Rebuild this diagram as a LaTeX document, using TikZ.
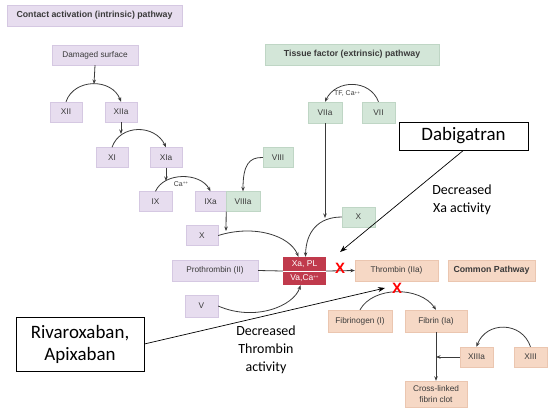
\documentclass[tikz,border=0pt]{standalone}
\usepackage{fontspec}
\setmainfont{Liberation Sans}
\newfontfamily\calibri{Carlito}
\usetikzlibrary{arrows.meta}
\definecolor{lilac}{HTML}{E7DDEF}
\definecolor{lilacline}{HTML}{D5C8E2}
\definecolor{sage}{HTML}{D3E6D8}
\definecolor{sageline}{HTML}{BFD6C5}
\definecolor{peach}{HTML}{F6D8C5}
\definecolor{peachline}{HTML}{EBC6B0}
\definecolor{brick}{HTML}{C03A4C}
\definecolor{inkgray}{HTML}{3A3A3A}
\newcommand{\plusplus}{\raisebox{0.45ex}{\fontsize{4.5}{5}\selectfont ++}}

\tikzset{
  fbox/.style={minimum width=32bp, minimum height=20bp, inner sep=1bp,
    align=center, text=inkgray, font=\fontsize{8.3}{10.5}\selectfont},
  pbox/.style={fbox, fill=lilac, draw=lilacline},
  gbox/.style={fbox, fill=sage, draw=sageline},
  obox/.style={fbox, fill=peach, draw=peachline},
  head/.style={font=\bfseries\fontsize{8.8}{10}\selectfont},
  arr/.style={-{Stealth[length=4.5bp,width=3.5bp]}, draw=inkgray, line width=0.8bp},
  link/.style={draw=inkgray, line width=0.8bp},
  callout/.style={draw=black, line width=0.6bp, fill=white, align=center,
    inner sep=0pt, font=\calibri\fontsize{19}{22}\selectfont},
  note/.style={align=center, font=\calibri\fontsize{14}{18}\selectfont},
  block/.style={text=red, font=\bfseries\fontsize{15}{15}\selectfont, inner sep=0pt},
  pointer/.style={-{Stealth[length=7bp,width=5bp]}, line width=0.7bp},
}

\begin{document}
\begin{tikzpicture}[x=1bp, y=-1bp]
  \useasboundingbox (0,0) rectangle (554,417);
  % Intrinsic pathway
  \node[pbox, head, minimum width=175bp, minimum height=21bp] (intr) at (94.5,15.5) {Contact activation (intrinsic) pathway};
  \node[pbox, minimum width=86bp] (dmg) at (95,55) {Damaged surface};
  \node[pbox] (xii) at (66,112) {XII};
  \node[pbox] (xiia) at (121,112) {XIIa};
  \node[pbox] (xi) at (112,157.5) {XI};
  \node[pbox] (xia) at (166,157.5) {XIa};
  \node[pbox, minimum width=33bp] (ix) at (155.5,201.5) {IX};
  \node[pbox, minimum width=31bp] (ixa) at (210.5,201.5) {IXa};
  \node[gbox, minimum width=34bp] (viiia) at (243,201.5) {VIIIa};
  \node[gbox, minimum width=30bp] (viii) at (278,157.5) {VIII};
  \node[pbox] (xp) at (202,235.5) {X};
  % Extrinsic pathway
  \node[gbox, head, minimum width=174bp, minimum height=21bp] (extr) at (352,54.5) {Tissue factor (extrinsic) pathway};
  \node[gbox, minimum width=34bp, minimum height=21bp] (viia) at (325,112.5) {VIIa};
  \node[gbox, minimum width=33bp, minimum height=21bp] (vii) at (378.5,112.5) {VII};
  \node[gbox, minimum width=33bp] (xg) at (358.5,217) {X};
  % Common pathway
  \node[fill=brick, minimum width=43bp, minimum height=28bp] (xa) at (304.5,271) {};
  \draw[white, line width=0.8bp] (xa.west) -- (xa.east);
  \node[text=white, font=\fontsize{8.5}{9}\selectfont] (xatop) at (304.5,264) {Xa, PL};
  \node[text=white, font=\fontsize{8.5}{9}\selectfont] (xabot) at (304.5,278) {Va,Ca\plusplus};
  \node[pbox, minimum width=86bp, minimum height=21bp] (pro) at (215,270.5) {Prothrombin (II)};
  \node[pbox, minimum width=33bp, minimum height=22bp] (v) at (201.5,306) {V};
  \node[obox, minimum width=83bp, minimum height=21bp] (thr) at (396.5,270.5) {Thrombin (IIa)};
  \node[obox, head, minimum width=87bp, minimum height=21bp] (common) at (491.5,270.5) {Common Pathway};
  \node[obox, minimum width=64bp, minimum height=22bp] (fbg) at (360,321) {Fibrinogen (I)};
  \node[obox, minimum width=62bp, minimum height=22bp] (fib) at (436,321) {Fibrin (Ia)};
  \node[obox, minimum width=33bp] (xiiia) at (476.5,357) {XIIIa};
  \node[obox, minimum width=33bp] (xiii) at (530.5,357) {XIII};
  \node[obox, minimum width=62bp, minimum height=26bp, font=\fontsize{8.3}{11}\selectfont] (clot) at (436,394) {Cross-linked\\fibrin clot};
  % Small labels
  \node[text=inkgray, font=\fontsize{7}{8}\selectfont] (ca) at (181,184) {Ca\plusplus};
  \node[text=inkgray, font=\fontsize{7}{8}\selectfont] (tfca) at (347,94) {TF, Ca\plusplus};
  % Cascade arrows
  \coordinate (j1) at (94,84);
  \coordinate (j2) at (121,134);
  \coordinate (j3) at (166,181);
  \coordinate (j4) at (226,231);
  \coordinate (j5) at (325,218);
  \coordinate (j6) at (436,357);
  \draw[arr] (dmg.south) -- (j1);
  \draw[arr] (xii.north) .. controls (74,78) and (112,78) .. (xiia.north);
  \draw[arr] (xiia.south) -- (j2);
  \draw[arr] (xi.north) .. controls (120,124) and (155,124) .. (xia.north);
  \draw[arr] (xia.south) -- (j3);
  \draw[arr] (ix.north) .. controls (164,172) and (200,172) .. (ixa.north);
  \draw[arr] (viii.west) .. controls (249,157) and (243,165) .. (viiia.north);
  \draw[arr] (ixa.south east) -- (j4);
  \draw[arr] (xp.east) .. controls (255,224) and (290,236) .. ([xshift=-6bp]xa.north);
  \draw[arr] (vii.north) .. controls (370,79) and (336,79) .. (viia.north);
  \draw[arr] (viia.south) -- (j5);
  \draw[arr] (xg.west) .. controls (318,217) and (306,232) .. ([xshift=1bp]xa.north);
  \draw[link] (pro.east) -- (xa.west);
  \draw[arr] (v.east) .. controls (255,322) and (294,306) .. ([xshift=-4bp]xa.south);
  \draw[arr] (xa.east) -- (thr.west);
  \draw[arr] (fbg.north) .. controls (373,286) and (420,286) .. (fib.north);
  \draw[arr] (fib.south) -- (clot.north);
  \draw[arr] (xiiia.west) -- (j6);
  \draw[arr] (xiii.north) .. controls (522,321) and (486,321) .. (xiiia.north);
  % Drug callouts
  \node[callout, minimum width=129bp, minimum height=28bp] (dabi) at (463.5,136) {Dabigatran};
  \node[callout, minimum width=128bp, minimum height=54bp] (riva) at (80,344) {Rivaroxaban,\\Apixaban};
  \node[note] (dxa) at (462,200) {Decreased\\Xa activity};
  \node[note] (dthr) at (266,350) {Decreased\\Thrombin\\activity};
  \node[block] (stop1) at (340,268) {X};
  \node[block] (stop2) at (397,288) {X};
  \coordinate (t1) at (340,252);
  \coordinate (t2) at (385,288);
  \draw[pointer] (dabi.south) -- (t1);
  \draw[pointer] (riva.east) -- (t2);
\end{tikzpicture}
\end{document}
